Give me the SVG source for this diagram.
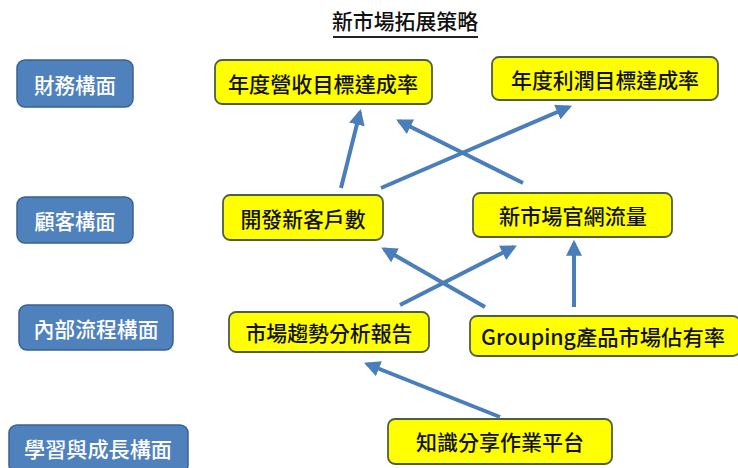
<svg xmlns="http://www.w3.org/2000/svg" width="738" height="468" viewBox="0 0 738 468">
<defs>
<style>
.t{font-family:"Noto Sans CJK TC","Noto Sans CJK SC",sans-serif;font-size:21px;font-weight:500;text-anchor:middle;dominant-baseline:central}
.blue rect{fill:#4f81bd;stroke:#3a6193;stroke-width:1.5}
.blue text{fill:#ffffff}
.yel rect{fill:#ffff00;stroke:#4d5f3f;stroke-width:1.8}
.yel text{fill:#111111}
.c line{stroke:#4a7ebb;stroke-width:4;marker-end:url(#ah)}
</style>
<marker id="ah" viewBox="0 0 10 10" refX="8" refY="5" markerWidth="4" markerHeight="4" orient="auto">
<path d="M0,0 L10,5 L0,10 z" fill="#4a7ebb"/>
</marker>
</defs>
<rect width="738" height="468" fill="#ffffff"/>
<g id="title">
<text class="t" x="405" y="20" fill="#111" textLength="146" lengthAdjust="spacingAndGlyphs">新市場拓展策略</text>
<line x1="333" y1="37" x2="478" y2="37" stroke="#222" stroke-width="2"/>
</g>
<g id="lbl-fin" class="blue"><rect x="17" y="60" width="116" height="47" rx="8"/><text class="t" x="75" y="84" textLength="82" lengthAdjust="spacingAndGlyphs">財務構面</text></g>
<g id="lbl-cus" class="blue"><rect x="17" y="197" width="116" height="46" rx="8"/><text class="t" x="75" y="220" textLength="81" lengthAdjust="spacingAndGlyphs">顧客構面</text></g>
<g id="lbl-int" class="blue"><rect x="19" y="305" width="154" height="45" rx="8"/><text class="t" x="96" y="328" textLength="125" lengthAdjust="spacingAndGlyphs">內部流程構面</text></g>
<g id="lbl-lrn" class="blue"><rect x="9" y="425" width="179" height="48" rx="8"/><text class="t" x="98" y="448" textLength="148" lengthAdjust="spacingAndGlyphs">學習與成長構面</text></g>

<g id="n-rev" class="yel"><rect x="215" y="60" width="217" height="44" rx="7"/><text class="t" x="323" y="83" textLength="190" lengthAdjust="spacingAndGlyphs">年度營收目標達成率</text></g>
<g id="n-prof" class="yel"><rect x="492" y="57" width="226" height="43" rx="7"/><text class="t" x="605" y="79" textLength="188" lengthAdjust="spacingAndGlyphs">年度利潤目標達成率</text></g>
<g id="n-newcus" class="yel"><rect x="223" y="195" width="160" height="45" rx="7"/><text class="t" x="303" y="218" textLength="125" lengthAdjust="spacingAndGlyphs">開發新客戶數</text></g>
<g id="n-web" class="yel"><rect x="473" y="193" width="199" height="44" rx="7"/><text class="t" x="573" y="215" textLength="148" lengthAdjust="spacingAndGlyphs">新市場官網流量</text></g>
<g id="n-trend" class="yel"><rect x="229" y="312" width="200" height="40" rx="7"/><text class="t" x="329" y="332" textLength="167" lengthAdjust="spacingAndGlyphs">市場趨勢分析報告</text></g>
<g id="n-share" class="yel"><rect x="470" y="316" width="270" height="40" rx="7"/><text class="t" x="603" y="336" textLength="244" lengthAdjust="spacingAndGlyphs">Grouping產品市場佔有率</text></g>
<g id="n-know" class="yel"><rect x="388" y="419" width="224" height="45" rx="7"/><text class="t" x="500" y="441" textLength="168" lengthAdjust="spacingAndGlyphs">知識分享作業平台</text></g>

<g id="connectors" class="c">
<line x1="341" y1="188" x2="360" y2="112"/>
<line x1="381" y1="188" x2="569" y2="107"/>
<line x1="523" y1="183" x2="399" y2="121"/>
<line x1="485" y1="307" x2="384" y2="249"/>
<line x1="400" y1="305" x2="514" y2="247"/>
<line x1="574" y1="307" x2="574" y2="243"/>
<line x1="500" y1="417" x2="367" y2="364"/>
</g>
</svg>
